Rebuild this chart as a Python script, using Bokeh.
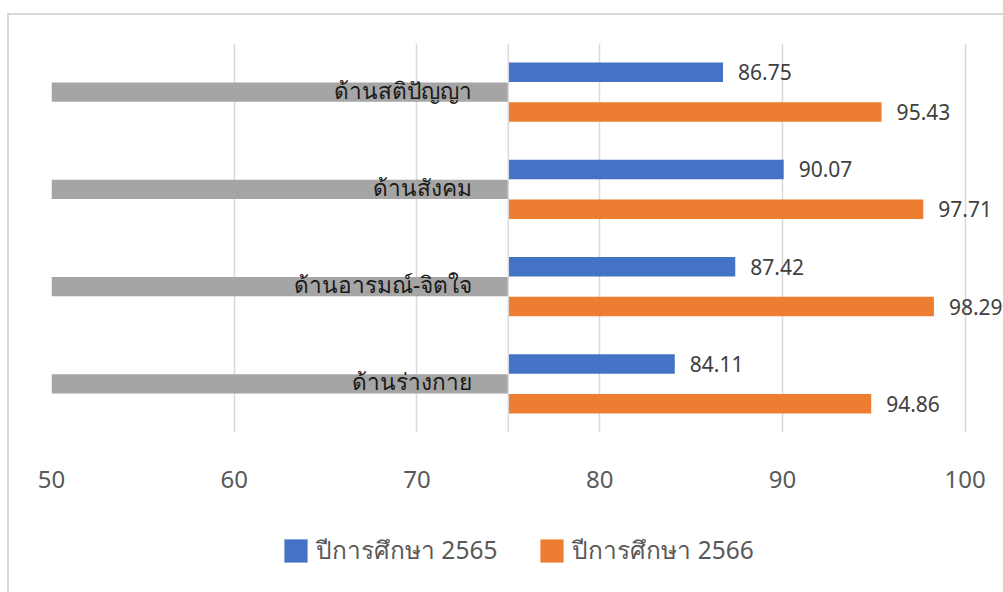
from bokeh.plotting import figure
from bokeh.layouts import column
from bokeh.models import Range1d, FixedTicker, Span, Legend, LegendItem, ColumnDataSource
from bokeh.core.properties import value
from bokeh.embed import file_html
from bokeh.resources import INLINE

categories = ["ด้านสติปัญญา", "ด้านสังคม", "ด้านอารมณ์-จิตใจ", "ด้านร่างกาย"]
series_names = ["ปีการศึกษา 2565", "ปีการศึกษา 2566"]
values_2565 = [86.75, 90.07, 87.42, 84.11]
values_2566 = [95.43, 97.71, 98.29, 94.86]
x_ticks = [50, 60, 70, 80, 90, 100]
axis_min = 50
axis_cross = 75
axis_max = 100

FONT = "Noto Sans"
BLUE, ORANGE, GRAY = "#4472C4", "#ED7D31", "#A5A5A5"
n = len(categories)
centers = [n - i - 0.5 for i in range(n)]
bar_h = 0.2
off = 0.205

src = ColumnDataSource(dict(
    cat=categories,
    c=centers,
    y1=[c + off for c in centers],
    y2=[c - off for c in centers],
    v1=values_2565,
    v2=values_2566,
    t1=["%.2f" % v for v in values_2565],
    t2=["%.2f" % v for v in values_2566],
    base=[axis_cross] * n,
    lo=[axis_min] * n,
))

# frame spans 50..~102 so value labels beyond 100 are not clipped
x_end = axis_max + 2.1
p = figure(width=994, height=495, output_backend="svg", toolbar_location=None,
           x_range=Range1d(axis_min, x_end), y_range=Range1d(0, n),
           min_border_left=42, min_border_right=0, min_border_top=28, min_border_bottom=78)
p.outline_line_color = None
p.background_fill_color = "white"
p.border_fill_color = "white"

p.xgrid.ticker = FixedTicker(ticks=x_ticks)
p.xgrid.grid_line_color = "#d9d9d9"
p.xgrid.grid_line_width = 1.5
p.ygrid.visible = False
p.yaxis.visible = False

ax = p.xaxis[0]
ax.ticker = FixedTicker(ticks=x_ticks)
ax.axis_line_color = None
ax.major_tick_line_color = None
ax.minor_tick_line_color = None
ax.major_label_text_font = FONT
ax.major_label_text_font_size = "24px"
ax.major_label_text_color = "#595959"
ax.major_label_standoff = 32

p.add_layout(Span(location=axis_cross, dimension="height", line_color="#d9d9d9", line_width=1.5))

p.hbar(y="c", left="lo", right="base", height=bar_h, source=src, fill_color=GRAY, line_color=None)
p.hbar(y="y1", left="base", right="v1", height=bar_h, source=src, fill_color=BLUE, line_color=None)
p.hbar(y="y2", left="base", right="v2", height=bar_h, source=src, fill_color=ORANGE, line_color=None)

p.text(x="base", y="c", text="cat", source=src, x_offset=-36, y_offset=-2,
       text_align="right", text_baseline="alphabetic", text_font=value(FONT),
       text_font_size="22.7px", text_color="#1a1a1a")
p.text(x="v1", y="y1", text="t1", source=src, x_offset=15, text_align="left",
       text_baseline="middle", text_font=value(FONT), text_font_size="21px", text_color="#404040")
p.text(x="v2", y="y2", text="t2", source=src, x_offset=15, text_align="left",
       text_baseline="middle", text_font=value(FONT), text_font_size="21px", text_color="#404040")

# legend strip (its renderers use the series data, which lies outside this strip's ranges)
q = figure(width=994, height=82, output_backend="svg", toolbar_location=None,
           x_range=Range1d(0, 1), y_range=Range1d(0, 1),
           min_border_left=0, min_border_right=0, min_border_top=0, min_border_bottom=0)
q.axis.visible = False
q.grid.visible = False
q.outline_line_color = None
q.background_fill_color = "white"
q.border_fill_color = "white"
lr1 = q.hbar(y="y1", left="base", right="v1", height=bar_h, source=src, fill_color=BLUE, line_color=None)
lr2 = q.hbar(y="y2", left="base", right="v2", height=bar_h, source=src, fill_color=ORANGE, line_color=None)
legend = Legend(items=[LegendItem(label=series_names[0], renderers=[lr1]),
                       LegendItem(label=series_names[1], renderers=[lr2])],
                location=(230, 22), orientation="horizontal",
                glyph_width=29, glyph_height=29, label_standoff=6, spacing=40,
                padding=0, margin=0, border_line_color=None, background_fill_alpha=0,
                label_text_font=FONT, label_text_font_size="24.5px", label_text_color="#595959",
                label_height=23)
q.add_layout(legend, "center")

layout = column(p, q, spacing=0, margin=(13, 0, 0, 7),
                styles={"border-left": "2px solid #d9d9d9", "border-top": "2px solid #d9d9d9"})
open("out.html", "w").write(file_html(layout, INLINE))
